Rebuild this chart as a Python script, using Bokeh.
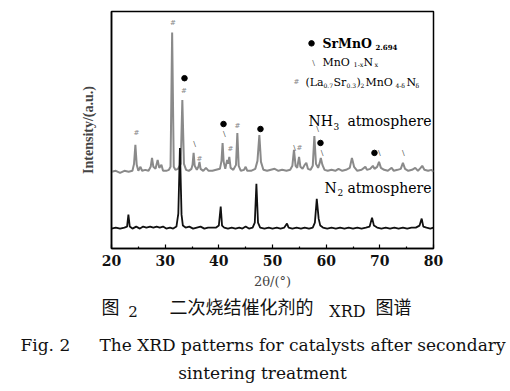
from bokeh.plotting import figure
from bokeh.models import Range1d, FixedTicker, Label
from bokeh.embed import file_html
from bokeh.resources import INLINE
from bokeh.core.properties import value

# ---------------- data (2θ in degrees, intensity in arbitrary units) ----------------
nh3_pattern = [(20.0,77),(20.8,78),(21.6,76),(22.4,78),(23.2,77),(23.9,78),(24.2,85),(24.45,104),(24.7,84),
    (25.0,78),(25.4,82),(25.7,78),(26.3,79),(26.9,78),(27.3,82),(27.55,91),(27.8,82),(28.2,80),(28.6,89),
    (28.9,81),(29.3,84),(29.6,78),(30.2,78),(30.7,79),(31.0,82),(31.3,217),(31.6,82),(31.9,79),(32.4,80),
    (32.9,85),(33.2,149),(33.5,85),(33.9,79),(34.4,78),(34.9,80),(35.1,84),(35.3,96),(35.5,83),(35.9,79),
    (36.2,82),(36.4,87),(36.6,80),(37.1,78),(37.6,81),(38.1,78),(38.8,78),(39.5,79),(40.2,80),(40.5,88),
    (40.7,106),(40.9,87),(41.2,80),(41.55,89),(41.75,85),(41.95,92),(42.2,81),(42.7,79),(43.2,84),(43.45,116),
    (43.7,83),(44.1,78),(44.7,79),(45.0,82),(45.3,78),(46.0,78),(46.8,80),(47.2,88),(47.55,114),(47.85,87),
    (48.3,79),(49.0,78),(49.7,79),(50.4,80),(51.1,78),(51.8,79),(52.6,78),(53.3,79),(53.7,83),(54.0,99),
    (54.3,83),(54.6,81),(54.95,92),(55.2,82),(55.6,80),(56.0,84),(56.3,86),(56.6,80),(57.1,79),(57.5,83),
    (57.8,113),(58.1,85),(58.5,81),(58.8,86),(59.0,91),(59.3,84),(59.7,79),(60.3,78),(61.0,79),(61.7,78),
    (62.3,80),(63.0,78),(63.7,79),(64.4,81),(64.8,91),(65.2,82),(65.8,78),(66.6,79),(67.3,82),(67.6,79),
    (68.2,80),(68.7,83),(69.0,80),(69.5,82),(69.85,87),(70.2,81),(70.8,79),(71.5,78),(72.2,81),(72.6,78),
    (73.3,79),(73.9,80),(74.3,86),(74.7,80),(75.3,78),(76.0,79),(76.6,81),(77.1,78),(77.6,81),(77.9,83),
    (78.3,79),(79.0,78),(79.6,79),(80.0,77)]

n2_pattern = [(20.0,20),(20.8,21),(21.6,20),(22.4,21),(22.9,22),(23.15,34),(23.4,22),(23.9,20),(24.6,22),
    (25.3,20),(25.9,22),(26.5,21),(27.2,22),(27.8,21),(28.4,22),(29.0,21),(29.6,22),(30.2,20),(30.9,21),
    (31.5,20),(32.1,22),(32.45,35),(32.75,101),(33.05,34),(33.3,23),(33.8,21),(34.5,22),(35.2,20),(35.9,21),
    (36.6,22),(37.3,20),(38.0,21),(38.8,21),(39.5,21),(40.0,23),(40.35,42),(40.6,23),(41.0,21),(41.7,20),
    (42.4,21),(43.1,20),(43.8,21),(44.4,20),(45.0,22),(45.6,20),(46.3,21),(46.7,26),(47.0,65),(47.3,26),
    (47.7,21),(48.5,20),(49.3,21),(50.0,20),(50.8,21),(51.5,20),(52.2,21),(52.7,25),(53.0,21),(53.7,20),
    (54.5,21),(55.3,20),(56.0,21),(56.8,20),(57.5,21),(57.9,26),(58.25,50),(58.6,30),(58.9,23),(59.4,21),
    (60.2,20),(61.0,21),(61.8,20),(62.6,21),(63.4,20),(64.2,21),(65.0,20),(65.8,21),(66.6,20),(67.4,21),
    (68.1,22),(68.55,31),(68.9,23),(69.5,21),(70.3,20),(71.1,21),(71.9,20),(72.7,21),(73.5,20),(74.3,21),
    (75.1,20),(75.9,21),(76.7,21),(77.4,23),(77.8,30),(78.1,22),(78.7,21),(79.4,20),(80.0,21)]

# phase markers (2θ, intensity) placed above peaks
srmno_marks = [(33.6,171),(40.87,125),(47.76,120),(58.94,106),(69.0,96),(57.27,206)]
mnon_marks = [(35.47,105),(41.05,115),(58.38,121),(59.22,96),(54.1,101),(69.93,96),(74.4,96),(57.64,187)]
lasr_marks = [(31.46,226),(33.51,158),(24.66,116),(36.4,90),(42.17,100),(43.48,123),(55.03,101),(54.47,167)]

x_ticks = [20, 30, 40, 50, 60, 70, 80]
x_minor_ticks = [25, 35, 45, 55, 65, 75]

# ---------------- main figure ----------------
p = figure(width=510, height=291, x_range=Range1d(20, 80), y_range=Range1d(0, 238),
           output_backend="svg", toolbar_location=None,
           min_border_left=111, min_border_right=77, min_border_top=11, min_border_bottom=42)
p.background_fill_color = "white"
p.border_fill_color = "white"
p.outline_line_color = "black"
p.outline_line_width = 1.5
p.xgrid.visible = False
p.ygrid.visible = False

p.line([a for a, b in nh3_pattern], [b for a, b in nh3_pattern], color="#8a8a8a", line_width=2)
p.line([a for a, b in n2_pattern], [b for a, b in n2_pattern], color="#111111", line_width=1.8)

p.scatter([a for a, b in srmno_marks], [b for a, b in srmno_marks], marker="circle", size=5.5, color="black")
p.text([a for a, b in mnon_marks], [b for a, b in mnon_marks], text=["\\"] * len(mnon_marks),
       text_font=value("DejaVu Serif"), text_font_size="8px", text_color="#555555",
       text_align="center", text_baseline="middle")
p.text([a for a, b in lasr_marks], [b for a, b in lasr_marks], text=["#"] * len(lasr_marks),
       text_font=value("DejaVu Serif"), text_font_size="7px", text_color="#888888",
       text_align="center", text_baseline="middle")

xa = p.xaxis[0]
xa.ticker = FixedTicker(ticks=x_ticks, minor_ticks=x_minor_ticks)
xa.major_tick_in = 4
xa.major_tick_out = 0
xa.minor_tick_in = 2
xa.minor_tick_out = 0
xa.axis_line_width = 1.5
xa.major_tick_line_width = 1.2
xa.minor_tick_line_width = 1.2
xa.major_label_text_font = "DejaVu Serif"
xa.major_label_text_font_style = "bold"
xa.major_label_text_font_size = "14px"
xa.major_label_text_color = "#111111"
xa.major_label_standoff = 6
xa.axis_label = "2θ/(°)"
xa.axis_label_text_font = "DejaVu Serif"
xa.axis_label_text_font_style = "normal"
xa.axis_label_text_font_size = "13px"
xa.axis_label_standoff = 5

ya = p.yaxis[0]
ya.ticker = FixedTicker(ticks=[])
ya.major_tick_in = 0
ya.major_tick_out = 0
ya.minor_tick_in = 0
ya.minor_tick_out = 0
ya.axis_line_width = 1.5
ya.axis_label = "Intensity/(a.u.)"
ya.axis_label_text_font = "Liberation Serif"
ya.axis_label_text_font_style = "bold"
ya.axis_label_text_font_size = "14px"
ya.axis_label_standoff = 16

# page-pixel layout -> data units of the main figure
def dx(px):
    return 20 + (px - 111) * 60.0 / 322.0

def dy(py):
    return 249 - py

def put(px, py, s, size, font="DejaVu Serif", style="normal", align="left", color="black"):
    p.add_layout(Label(x=dx(px), y=dy(py), text=s, text_font=font, text_font_size=size,
                       text_font_style=style, text_align=align, text_baseline="middle",
                       text_color=color))

# legend
put(322, 43, "SrMnO", "12.5px", style="bold")
put(375, 47, "2.694", "7px", style="bold")
put(322, 62, "MnO", "11px")
put(353, 65, "1-x", "6.5px")
put(363, 62, "N", "11px")
put(374, 65, "x", "6.5px")
put(305, 82, "(La", "11px")
put(323, 85, "0.7", "6px")
put(333, 82, "Sr", "11px")
put(346, 85, "0.3", "6px")
put(356, 82, ")", "11px")
put(360, 85, "2", "6px")
put(365, 82, "MnO", "11px")
put(395, 85, "4-δ", "6px")
put(406, 82, "N", "11px")
put(415, 85, "δ", "6px")

# atmosphere labels
put(308, 121, "NH", "14px")
put(333, 126, "3", "9px")
put(431, 121, "atmosphere", "14px", align="right")
put(324, 188, "N", "14px")
put(337, 193, "2", "9px")
put(431, 188, "atmosphere", "14px", align="right")

# ---------------- caption panel (separate root below the chart) ----------------
c = figure(width=510, height=100, x_range=Range1d(0, 510), y_range=Range1d(0, 100),
           output_backend="svg", toolbar_location=None, x_axis_type=None, y_axis_type=None,
           min_border=0, min_border_left=0, min_border_right=0, min_border_top=0, min_border_bottom=0)
c.outline_line_color = None
c.xgrid.visible = False
c.ygrid.visible = False
c.background_fill_color = "white"
c.border_fill_color = "white"

def cap(px, py, s, size, font="DejaVu Serif", align="left"):
    c.add_layout(Label(x=px, y=391 - py, text=s, text_font=font, text_font_size=size,
                       text_align=align, text_baseline="middle", text_color="#111111"))

cjk = "Noto Sans CJK SC"
cap(110, 305, "图", "18px", font=cjk, align="center")
cap(132.5, 311, "2", "15px", align="center")
cap(241, 305, "二次烧结催化剂的", "18px", font=cjk, align="center")
cap(347, 311, "XRD", "16px", align="center")
cap(393, 305, "图谱", "18px", font=cjk, align="center")
cap(20, 344, "Fig. 2", "17px")
cap(505, 344, "The XRD patterns for catalysts after secondary", "17px", align="right")
cap(262, 372, "sintering treatment", "17px", align="center")

open("out.html", "w").write(file_html([p, c], INLINE))
